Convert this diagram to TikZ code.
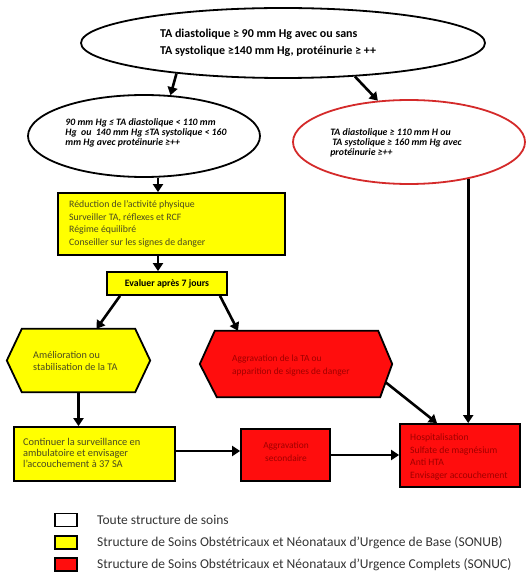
\documentclass[tikz,border=0pt]{standalone}
\usepackage{fontspec}
\setmainfont{Carlito}
\usetikzlibrary{arrows.meta,calc,shapes.geometric}
\definecolor{yel}{HTML}{FFFF00}
\definecolor{redfill}{HTML}{FF0D0D}
\definecolor{darkred}{HTML}{A00000}
\definecolor{olivetxt}{HTML}{4A4A20}
\definecolor{ered}{HTML}{D42A2A}
\definecolor{legtxt}{HTML}{333333}
\begin{document}
\begin{tikzpicture}[x=1pt,y=-1pt,
  arr/.style={line width=2.6pt,-{Triangle[length=8pt,width=10pt]}},
  ell/.style={draw,ellipse,line width=1.8pt,inner sep=0pt},
  ybox/.style={draw,line width=1.8pt,fill=yel,inner sep=0pt},
  rbox/.style={draw,line width=1.8pt,fill=redfill,inner sep=0pt},
  hexframe/.style={draw,line width=1.8pt},
  ghost/.style={inner sep=0pt},
  ytxt/.style={text=olivetxt,align=left,inner sep=0pt,font=\fontsize{9.8}{12.5}\selectfont},
  rtxt/.style={text=darkred,align=left,inner sep=0pt,font=\fontsize{9.7}{12.5}\selectfont},
  etxt/.style={align=left,inner sep=0pt,font=\bfseries\itshape\fontsize{9.8}{10.3}\selectfont},
  legbox/.style={draw,line width=1.5pt,minimum width=22pt,minimum height=13pt,inner sep=0pt},
  legtext/.style={anchor=west,text=legtxt,inner sep=0pt,font=\fontsize{13.5}{15}\selectfont}
]
\useasboundingbox (0,0) rectangle (526,572);

% ellipses
\node[ell,minimum width=404pt,minimum height=70pt] (top) at (283,43) {};
\node[align=left,inner sep=0pt,font=\bfseries\fontsize{12}{17}\selectfont] (toptxt) at (268,43)
  {TA diastolique ≥ 90 mm Hg avec ou sans\\TA systolique ≥140 mm Hg, protéinurie ≥ ++};

\node[ell,minimum width=232pt,minimum height=82pt] (lefte) at (144,136) {};
\node[etxt] (lefttxt) at (146,133)
  {90 mm Hg ≤ TA diastolique < 110 mm\\Hg\ \ ou\ \ 140 mm Hg ≤TA systolique < 160\\mm Hg avec protéinurie ≥++};

\node[ell,draw=ered,minimum width=232pt,minimum height=84pt] (rede) at (409,142) {};
\node[etxt] (redtxt) at (396,143)
  {TA diastolique ≥ 110 mm H ou\\\hspace{2pt}TA systolique ≥ 160 mm Hg avec\\protéinurie ≥++};

% yellow boxes
\node[ybox,minimum width=227pt,minimum height=62pt] (b1) at (171.5,224) {};
\node[ytxt,anchor=west] (b1txt) at (69,224)
  {Réduction de l’activité physique\\Surveiller TA, réflexes et RCF\\Régime équilibré\\Conseiller sur les signes de danger};

\node[ybox,minimum width=120pt,minimum height=23pt,font=\bfseries\fontsize{9.8}{11}\selectfont] (ev) at (167,283.5) {Evaluer après 7 jours};

% hexagons
\node[ghost,minimum width=143pt,minimum height=63pt] (yhex) at (78.5,360.5) {};
\draw[hexframe,fill=yel] (yhex.west) -- ([xshift=15pt]yhex.north west) -- ([xshift=-15pt]yhex.north east)
  -- (yhex.east) -- ([xshift=-15pt]yhex.south east) -- ([xshift=15pt]yhex.south west) -- cycle;
\node[ytxt,anchor=west,font=\fontsize{10.2}{12.5}\selectfont] (yhextxt) at (33,361) {Amélioration ou\\stabilisation de la TA};

\node[ghost,minimum width=192pt,minimum height=66pt] (rhex) at (296,364) {};
\draw[hexframe,fill=redfill] (rhex.west) -- ([xshift=15pt]rhex.north west) -- ([xshift=-14pt]rhex.north east)
  -- (rhex.east) -- ([xshift=-12pt]rhex.south east) -- ([xshift=17pt]rhex.south west) -- cycle;
\node[rtxt,anchor=west,font=\fontsize{9.4}{12.5}\selectfont] (rhextxt) at (232,365.5) {Aggravation de la TA ou\\apparition de signes de danger};

% bottom row
\node[ybox,minimum width=161pt,minimum height=54pt] (b2) at (94.5,454) {};
\node[ytxt,anchor=west,font=\fontsize{10.4}{11.2}\selectfont] (b2txt) at (23,453)
  {Continuer la surveillance en\\ambulatoire et envisager\\l’accouchement à 37 SA};

\node[rbox,minimum width=89pt,minimum height=52pt] (agg) at (285.5,455) {};
\node[rtxt,align=center,font=\fontsize{9.4}{13}\selectfont] (aggtxt) at (286,451.5) {Aggravation\\secondaire};

\node[rbox,minimum width=120pt,minimum height=63pt] (hosp) at (460,455.5) {};
\node[rtxt,anchor=west] (hosptxt) at (410,457)
  {Hospitalisation\\Sulfate de magnésium\\Anti HTA\\Envisager accouchement};

% connectors
\coordinate (cx) at (158,0);
\draw[arr] (top.196) -- (lefte.57);
\draw[arr] (top.335) -- (rede.127);
\draw[arr] (cx |- lefte.south) -- (cx |- b1.north);
\draw[arr] (cx |- b1.south) -- (cx |- ev.north);
\draw[arr] ([xshift=-47pt]ev.south) -- ([xshift=18pt]yhex.north);
\draw[arr] ([xshift=53pt]ev.south) -- ([xshift=-58pt]rhex.north);
\draw[arr] (rede.-32) -- (rede.-32 |- hosp.north);
\draw[arr] ($(rhex.east)!0.55!([xshift=-12pt]rhex.south east)$) -- ([xshift=-23pt]hosp.north);
\draw[arr] (yhex.south) -- (yhex.south |- b2.north);
\draw[arr] ([yshift=3pt]b2.east) -- ([yshift=3pt]b2.east -| agg.west);
\draw[arr] (agg.east) -- (agg.east -| hosp.west);

% legend
\node[legbox,fill=white] (leg1) at (66,520) {};
\node[legbox,fill=yel] (leg2) at (66,542.5) {};
\node[legbox,fill=redfill] (leg3) at (66,564.5) {};
\node[legtext] (leg1t) at (97,520) {Toute structure de soins};
\node[legtext] (leg2t) at (97,542.5) {Structure de Soins Obstétricaux et Néonataux d’Urgence de Base (SONUB)};
\node[legtext] (leg3t) at (97,564.5) {Structure de Soins Obstétricaux et Néonataux d’Urgence Complets (SONUC)};
\end{tikzpicture}
\end{document}
